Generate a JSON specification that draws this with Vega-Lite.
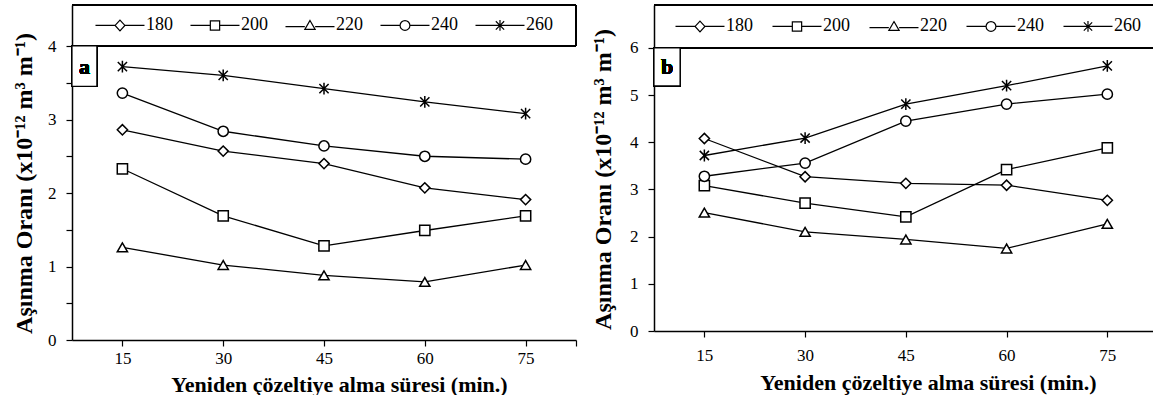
{
  "$schema": "https://vega.github.io/schema/vega-lite/v6.json",
  "background": "white",
  "padding": {"left": 12, "top": 4, "right": 0, "bottom": 0},
  "bounds": "flush",
  "spacing": 78,
  "config": {
    "font": "Liberation Serif",
    "view": {"stroke": null},
    "axis": {
      "grid": false,
      "domainColor": "black",
      "domainWidth": 1.5,
      "tickColor": "black",
      "tickWidth": 1.2,
      "tickSize": 6,
      "labelFont": "Liberation Serif",
      "labelFontSize": 17,
      "labelColor": "black",
      "titleFont": "Liberation Serif",
      "titleFontSize": 22,
      "titleFontWeight": "bold",
      "titleColor": "black"
    }
  },
  "datasets": {
    "a": [
      {"t": 15, "temp": "180", "wear": 2.86}, {"t": 30, "temp": "180", "wear": 2.57}, {"t": 45, "temp": "180", "wear": 2.40}, {"t": 60, "temp": "180", "wear": 2.07}, {"t": 75, "temp": "180", "wear": 1.91},
      {"t": 15, "temp": "200", "wear": 2.33}, {"t": 30, "temp": "200", "wear": 1.69}, {"t": 45, "temp": "200", "wear": 1.28}, {"t": 60, "temp": "200", "wear": 1.49}, {"t": 75, "temp": "200", "wear": 1.69},
      {"t": 15, "temp": "220", "wear": 1.26}, {"t": 30, "temp": "220", "wear": 1.02}, {"t": 45, "temp": "220", "wear": 0.88}, {"t": 60, "temp": "220", "wear": 0.79}, {"t": 75, "temp": "220", "wear": 1.02},
      {"t": 15, "temp": "240", "wear": 3.36}, {"t": 30, "temp": "240", "wear": 2.84}, {"t": 45, "temp": "240", "wear": 2.64}, {"t": 60, "temp": "240", "wear": 2.50}, {"t": 75, "temp": "240", "wear": 2.46},
      {"t": 15, "temp": "260", "wear": 3.72}, {"t": 30, "temp": "260", "wear": 3.60}, {"t": 45, "temp": "260", "wear": 3.42}, {"t": 60, "temp": "260", "wear": 3.24}, {"t": 75, "temp": "260", "wear": 3.08}
    ],
    "b": [
      {"t": 15, "temp": "180", "wear": 4.08}, {"t": 30, "temp": "180", "wear": 3.27}, {"t": 45, "temp": "180", "wear": 3.13}, {"t": 60, "temp": "180", "wear": 3.09}, {"t": 75, "temp": "180", "wear": 2.77},
      {"t": 15, "temp": "200", "wear": 3.08}, {"t": 30, "temp": "200", "wear": 2.71}, {"t": 45, "temp": "200", "wear": 2.42}, {"t": 60, "temp": "200", "wear": 3.42}, {"t": 75, "temp": "200", "wear": 3.88},
      {"t": 15, "temp": "220", "wear": 2.51}, {"t": 30, "temp": "220", "wear": 2.10}, {"t": 45, "temp": "220", "wear": 1.94}, {"t": 60, "temp": "220", "wear": 1.75}, {"t": 75, "temp": "220", "wear": 2.27},
      {"t": 15, "temp": "240", "wear": 3.28}, {"t": 30, "temp": "240", "wear": 3.56}, {"t": 45, "temp": "240", "wear": 4.45}, {"t": 60, "temp": "240", "wear": 4.81}, {"t": 75, "temp": "240", "wear": 5.02},
      {"t": 15, "temp": "260", "wear": 3.72}, {"t": 30, "temp": "260", "wear": 4.09}, {"t": 45, "temp": "260", "wear": 4.81}, {"t": 60, "temp": "260", "wear": 5.20}, {"t": 75, "temp": "260", "wear": 5.62}
    ]
  },
  "hconcat": [
    {
      "width": 504,
      "height": 335,
      "data": {"name": "a"},
      "layer": [
        {
          "encoding": {
            "x": {"field": "t", "type": "quantitative", "scale": {"domain": [7.5, 82.5], "nice": false, "zero": false},
              "axis": {"values": [15, 30, 45, 60, 75, 82.5], "labelExpr": "datum.value % 15 == 0 ? datum.label : ''", "labelPadding": 4, "titlePadding": 8, "titleX": 267},
              "title": "Yeniden çözeltiye alma süresi (min.)"},
            "y": {"field": "wear", "type": "quantitative", "scale": {"domain": [0, 4.558], "nice": false},
              "axis": {"values": [0, 0.5, 1, 1.5, 2, 2.5, 3, 3.5, 4], "format": ".0f", "labelExpr": "datum.value % 1 == 0 ? datum.label : ''", "labelPadding": 10, "titlePadding": 11, "titleY": 178, "titleFontSize": 24},
              "title": "Aşınma Oranı (x10⁻¹² m³ m⁻¹)"}
          },
          "layer": [
            {"mark": {"type": "line", "color": "black", "strokeWidth": 1.3},
             "encoding": {"detail": {"field": "temp", "type": "nominal"}}},
            {"mark": {"type": "point", "filled": true, "fill": "white", "stroke": "black", "strokeWidth": 1.5, "size": 105, "opacity": 1},
             "encoding": {
               "shape": {"field": "temp", "type": "nominal", "legend": null,
                 "scale": {"domain": ["180", "200", "220", "240", "260"], "range": ["diamond", "square", "triangle-up", "circle", "M-0.9,-0.9L0.9,0.9M-0.9,0.9L0.9,-0.9M0,-1.15L0,1.15"]}}
             }},
            {"mark": {"type": "rule", "color": "black", "strokeWidth": 1.5},
             "encoding": {"x": {"datum": 7.5}, "x2": {"datum": 82.5}, "y": {"datum": 4.558}}},
            {"mark": {"type": "rule", "color": "black", "strokeWidth": 1.5},
             "encoding": {"x": {"datum": 7.5}, "x2": {"datum": 82.5}, "y": {"datum": 4}}},
            {"mark": {"type": "rule", "color": "black", "strokeWidth": 1.5},
             "encoding": {"x": {"datum": 82.5}, "y": {"datum": 4}, "y2": {"datum": 4.558}}},
            {"mark": {"type": "rect", "fill": "white", "stroke": "black", "strokeWidth": 1.2},
             "encoding": {"x": {"datum": 7.5}, "x2": {"datum": 11.2}, "y": {"datum": 4}, "y2": {"datum": 3.45}}},
            {"mark": {"type": "text", "text": "a", "font": "Liberation Serif", "fontWeight": "bold", "fontSize": 22, "color": "black", "align": "center", "baseline": "middle"},
             "encoding": {"x": {"datum": 9.35}, "y": {"datum": 3.72}}}
          ]
        },
        {
          "transform": [{"filter": "datum.t == 15"}],
          "encoding": {
            "x": {"field": "temp", "type": "ordinal", "axis": null,
              "scale": {"type": "point", "domain": ["180", "200", "220", "240", "260"], "padding": 0.6526, "align": 0.387}},
            "y": {"datum": 4.28}
          },
          "layer": [
            {"mark": {"type": "point", "filled": true, "fill": "white", "stroke": "black", "strokeWidth": 1.2, "size": 2401, "opacity": 1},
             "encoding": {"shape": {"field": "temp", "type": "nominal", "legend": null,
               "scale": {"domain": ["180", "200", "220", "240", "260"], "range": [
                 "M-1,0L-0.2,0M0.2,0L1,0M0,-0.22L0.2,0L0,0.22L-0.2,0Z",
                 "M-1,0L-0.19,0M0.19,0L1,0M-0.19,-0.19L0.19,-0.19L0.19,0.19L-0.19,0.19Z",
                 "M-1,0.05L-0.21,0.05M0.21,0.05L1,0.05M0,-0.2L0.21,0.16L-0.21,0.16Z",
                 "M-1,0L-0.2,0M0.2,0L1,0M0.2,0A0.2,0.2,0,1,1,-0.2,0A0.2,0.2,0,1,1,0.2,0Z",
                 "M-1,0L1,0M-0.17,-0.17L0.17,0.17M-0.17,0.17L0.17,-0.17M0,-0.22L0,0.22"]}}}},
            {"mark": {"type": "text", "align": "left", "baseline": "middle", "dx": 26, "font": "Liberation Serif", "fontSize": 18, "color": "black"},
             "encoding": {"text": {"field": "temp"}}}
          ],
          "resolve": {"scale": {"shape": "independent"}}
        }
      ],
      "resolve": {"scale": {"x": "independent", "shape": "independent"}}
    },
    {
      "width": 501,
      "height": 326,
      "data": {"name": "b"},
      "layer": [
        {
          "encoding": {
            "x": {"field": "t", "type": "quantitative", "scale": {"domain": [7.5, 82.1], "nice": false, "zero": false},
              "axis": {"values": [15, 30, 45, 60, 75], "labelPadding": 10, "titlePadding": 9, "titleX": 274},
              "title": "Yeniden çözeltiye alma süresi (min.)"},
            "y": {"field": "wear", "type": "quantitative", "scale": {"domain": [0, 6.91], "nice": false},
              "axis": {"values": [0, 1, 2, 3, 4, 5, 6], "labelPadding": 10, "titlePadding": 14, "titleY": 174, "titleFontSize": 24},
              "title": "Aşınma Oranı (x10⁻¹² m³ m⁻¹)"}
          },
          "layer": [
            {"mark": {"type": "line", "color": "black", "strokeWidth": 1.3},
             "encoding": {"detail": {"field": "temp", "type": "nominal"}}},
            {"mark": {"type": "point", "filled": true, "fill": "white", "stroke": "black", "strokeWidth": 1.5, "size": 105, "opacity": 1},
             "encoding": {
               "shape": {"field": "temp", "type": "nominal", "legend": null,
                 "scale": {"domain": ["180", "200", "220", "240", "260"], "range": ["diamond", "square", "triangle-up", "circle", "M-0.9,-0.9L0.9,0.9M-0.9,0.9L0.9,-0.9M0,-1.15L0,1.15"]}}
             }},
            {"mark": {"type": "rule", "color": "black", "strokeWidth": 1.5},
             "encoding": {"x": {"datum": 7.5}, "x2": {"datum": 82.1}, "y": {"datum": 6.91}}},
            {"mark": {"type": "rule", "color": "black", "strokeWidth": 1.5},
             "encoding": {"x": {"datum": 7.5}, "x2": {"datum": 82.1}, "y": {"datum": 6}}},
            {"mark": {"type": "rect", "fill": "white", "stroke": "black", "strokeWidth": 1.2},
             "encoding": {"x": {"datum": 7.5}, "x2": {"datum": 11.38}, "y": {"datum": 6}, "y2": {"datum": 5.195}}},
            {"mark": {"type": "text", "text": "b", "font": "Liberation Serif", "fontWeight": "bold", "fontSize": 22, "color": "black", "align": "center", "baseline": "middle"},
             "encoding": {"x": {"datum": 9.44}, "y": {"datum": 5.6}}}
          ]
        },
        {
          "transform": [{"filter": "datum.t == 15"}],
          "encoding": {
            "x": {"field": "temp", "type": "ordinal", "axis": null,
              "scale": {"type": "point", "domain": ["180", "200", "220", "240", "260"], "padding": 0.5825, "align": 0.407}},
            "y": {"datum": 6.455}
          },
          "layer": [
            {"mark": {"type": "point", "filled": true, "fill": "white", "stroke": "black", "strokeWidth": 1.2, "size": 2401, "opacity": 1},
             "encoding": {"shape": {"field": "temp", "type": "nominal", "legend": null,
               "scale": {"domain": ["180", "200", "220", "240", "260"], "range": [
                 "M-1,0L-0.2,0M0.2,0L1,0M0,-0.22L0.2,0L0,0.22L-0.2,0Z",
                 "M-1,0L-0.19,0M0.19,0L1,0M-0.19,-0.19L0.19,-0.19L0.19,0.19L-0.19,0.19Z",
                 "M-1,0.05L-0.21,0.05M0.21,0.05L1,0.05M0,-0.2L0.21,0.16L-0.21,0.16Z",
                 "M-1,0L-0.2,0M0.2,0L1,0M0.2,0A0.2,0.2,0,1,1,-0.2,0A0.2,0.2,0,1,1,0.2,0Z",
                 "M-1,0L1,0M-0.17,-0.17L0.17,0.17M-0.17,0.17L0.17,-0.17M0,-0.22L0,0.22"]}}}},
            {"mark": {"type": "text", "align": "left", "baseline": "middle", "dx": 26, "font": "Liberation Serif", "fontSize": 18, "color": "black"},
             "encoding": {"text": {"field": "temp"}}}
          ],
          "resolve": {"scale": {"shape": "independent"}}
        }
      ],
      "resolve": {"scale": {"x": "independent", "shape": "independent"}}
    }
  ]
}
